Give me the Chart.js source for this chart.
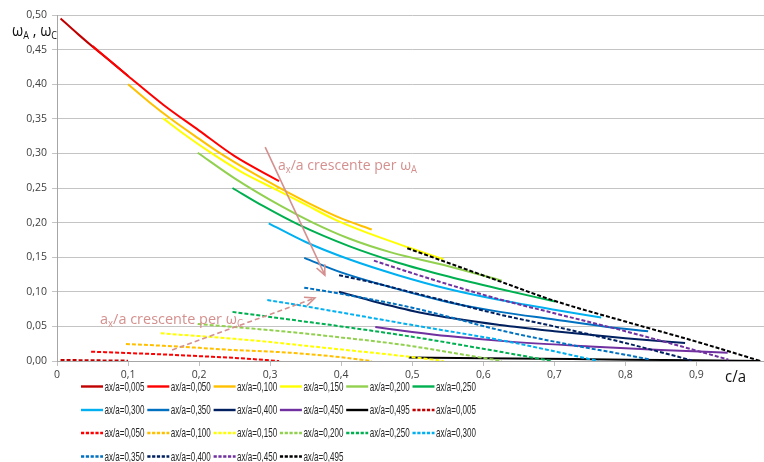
<!DOCTYPE html>
<html>
<head>
<meta charset="utf-8">
<script src="https://cdn.jsdelivr.net/npm/chart.js@4.4.1/dist/chart.umd.min.js"></script>
<style>
  html, body { margin: 0; padding: 0; background: #fff; overflow: hidden; width: 764px; height: 462px; }
  canvas { display: block; }
</style>
</head>
<body>
<canvas id="chart" width="772" height="462"></canvas>
<script>
// ax/a values shown in the legend (solid = omega_A, dashed = omega_C)
const axLabels = ['0,005', '0,050', '0,100', '0,150', '0,200', '0,250',
                  '0,300', '0,350', '0,400', '0,450', '0,495'];
const seriesColors = ['#C00000', '#FF0000', '#FFC000', '#FFFF00', '#92D050', '#00B050',
                      '#00B0F0', '#0070C0', '#002060', '#7030A0', '#000000'];

// tick labels
const yTickValues = [0, 0.05, 0.10, 0.15, 0.20, 0.25, 0.30, 0.35, 0.40, 0.45, 0.50];
const xTickValues = [0, 0.1, 0.2, 0.3, 0.4, 0.5, 0.6, 0.7, 0.8, 0.9];

// omega_A curves, points [c/a, omega]
const wA_0005 = [[0.005,0.495],[0.03,0.472],[0.055,0.450],[0.08,0.429],[0.1,0.412]];
const wA_0050 = [[0.05,0.455],[0.1,0.412],[0.15,0.370],[0.2,0.333],[0.25,0.296],[0.3125,0.260]];
const wA_0100 = [[0.1,0.400],[0.13,0.374],[0.16,0.350],[0.2,0.321],[0.23,0.300],[0.27,0.275],[0.31,0.252],[0.364,0.223],[0.4,0.206],[0.443,0.190]];
const wA_0150 = [[0.149,0.351],[0.18,0.327],[0.218,0.300],[0.26,0.273],[0.31,0.247],[0.35,0.226],[0.392,0.204],[0.44,0.184],[0.495,0.164],[0.544,0.147]];
const wA_0200 = [[0.198,0.301],[0.25,0.264],[0.317,0.223],[0.36,0.200],[0.411,0.177],[0.47,0.157],[0.551,0.137],[0.626,0.116]];
const wA_0250 = [[0.247,0.250],[0.29,0.224],[0.34,0.197],[0.411,0.166],[0.48,0.142],[0.551,0.122],[0.6235,0.104],[0.701,0.086]];
const wA_0300 = [[0.298,0.199],[0.35,0.172],[0.411,0.147],[0.48,0.124],[0.551,0.104],[0.6235,0.088],[0.7,0.074],[0.766,0.063]];
const wA_0350 = [[0.348,0.149],[0.4,0.128],[0.458,0.110],[0.551,0.085],[0.6235,0.071],[0.7,0.060],[0.77,0.050],[0.832,0.043]];
const wA_0400 = [[0.397,0.100],[0.45,0.085],[0.516,0.069],[0.6235,0.052],[0.7,0.043],[0.8,0.033],[0.884,0.026]];
const wA_0450 = [[0.448,0.049],[0.5,0.042],[0.55,0.036],[0.637,0.028],[0.75,0.021],[0.85,0.016],[0.944,0.012]];
const wA_0495 = [[0.495,0.005],[0.6,0.004],[0.75,0.0025],[0.9,0.001],[0.99,0.0]];

// omega_C curves, points [c/a, omega]
const wC_0005 = [[0.005,0.0015],[0.055,0.001],[0.1,0.0005]];
const wC_0050 = [[0.048,0.0135],[0.1,0.0115],[0.15,0.0095],[0.2,0.007],[0.25,0.0045],[0.3125,0.0]];
const wC_0100 = [[0.097,0.0246],[0.15,0.022],[0.2,0.019],[0.247,0.016],[0.327,0.012],[0.39,0.0065],[0.443,0.0]];
const wC_0150 = [[0.146,0.040],[0.2,0.036],[0.25,0.032],[0.294,0.028],[0.35,0.022],[0.42,0.0145],[0.48,0.008],[0.544,0.0]];
const wC_0200 = [[0.198,0.0535],[0.25,0.049],[0.327,0.042],[0.4,0.034],[0.483,0.024],[0.55,0.013],[0.626,0.0]];
const wC_0250 = [[0.247,0.071],[0.327,0.060],[0.4,0.050],[0.5,0.035],[0.6235,0.0134],[0.696,0.0]];
const wC_0300 = [[0.296,0.088],[0.327,0.083],[0.4,0.070],[0.5,0.052],[0.63,0.029],[0.7,0.014],[0.762,0.0]];
const wC_0350 = [[0.348,0.106],[0.4,0.097],[0.5,0.077],[0.63,0.043],[0.72,0.024],[0.8,0.009],[0.835,0.002]];
const wC_0400 = [[0.397,0.124],[0.45,0.112],[0.5,0.099],[0.55,0.086],[0.6235,0.067],[0.7,0.050],[0.8,0.026],[0.893,0.001]];
const wC_0450 = [[0.446,0.145],[0.5,0.127],[0.553,0.110],[0.6235,0.089],[0.7,0.069],[0.8,0.043],[0.9,0.015],[0.945,0.002]];
const wC_0495 = [[0.493,0.163],[0.55,0.142],[0.6235,0.115],[0.7,0.087],[0.8,0.057],[0.9,0.028],[0.99,0.0]];

const solidSeries  = [wA_0005, wA_0050, wA_0100, wA_0150, wA_0200, wA_0250, wA_0300, wA_0350, wA_0400, wA_0450, wA_0495];
const dashedSeries = [wC_0005, wC_0050, wC_0100, wC_0150, wC_0200, wC_0250, wC_0300, wC_0350, wC_0400, wC_0450, wC_0495];

const DASH = [4, 2];
const datasets = [];
function addSeries(points, i, dashed) {
  datasets.push({
    label: 'ax/a=' + axLabels[i],
    data: points.map(p => ({ x: p[0], y: p[1] })),
    borderColor: seriesColors[i],
    backgroundColor: seriesColors[i],
    borderWidth: 2,
    borderDash: dashed ? DASH : [],
    pointRadius: 0,
    fill: false,
    cubicInterpolationMode: 'monotone'
  });
}
solidSeries.forEach((s, i) => addSeries(s, i, false));
dashedSeries.forEach((s, i) => addSeries(s, i, true));
// later series are painted over earlier ones
datasets.forEach((d, i) => { d.order = datasets.length - i; });

const fmtY = v => v.toFixed(2).replace('.', ',');
const fmtX = v => (Math.abs(v - 1) < 1e-9 ? '' : (v === 0 ? '0' : (Math.round(v * 10) / 10).toString().replace('.', ',')));
const TEXT_FONT = '"Open Sans", "Liberation Sans", "DejaVu Sans", sans-serif';
const TICK_FONT = '"Open Sans", "Liberation Sans", sans-serif';
const PINK = '#D4908E';

// draws text pieces (with sub-scripts) squeezed to a given width
function drawRich(ctx, parts, x, y, width, color) {
  ctx.save();
  ctx.fillStyle = color;
  ctx.textBaseline = 'alphabetic';
  ctx.textAlign = 'left';
  let total = 0;
  parts.forEach(p => { ctx.font = p.size + 'px ' + TEXT_FONT; p.w = ctx.measureText(p.t).width; total += p.w; });
  const k = width / total;
  ctx.translate(x, y);
  ctx.scale(k, 1);
  let cx = 0;
  parts.forEach(p => {
    ctx.font = p.size + 'px ' + TEXT_FONT;
    ctx.fillText(p.t, cx, p.dy || 0);
    cx += p.w;
  });
  ctx.restore();
}

function drawArrow(ctx, x1, y1, x2, y2, dashed) {
  ctx.save();
  ctx.strokeStyle = PINK;
  ctx.lineWidth = 1.6;
  ctx.setLineDash(dashed ? [5, 3] : []);
  ctx.beginPath(); ctx.moveTo(x1, y1); ctx.lineTo(x2, y2); ctx.stroke();
  ctx.setLineDash([]);
  const a = Math.atan2(y2 - y1, x2 - x1), L = 11, s = 0.42;
  ctx.beginPath();
  ctx.moveTo(x2 - L * Math.cos(a - s), y2 - L * Math.sin(a - s));
  ctx.lineTo(x2, y2);
  ctx.lineTo(x2 - L * Math.cos(a + s), y2 - L * Math.sin(a + s));
  ctx.stroke();
  ctx.restore();
}

const extras = {
  id: 'extras',
  afterDraw(chart) {
    const ctx = chart.ctx, xs = chart.scales.x, ys = chart.scales.y;
    const px = v => xs.getPixelForValue(v), py = v => ys.getPixelForValue(v);

    // axis titles
    drawRich(ctx, [{ t: 'ω', size: 16 }, { t: 'A', size: 10, dy: 3 }, { t: ' , ω', size: 16 }, { t: 'C', size: 10, dy: 3 }],
             12, 36, 45, '#111');
    drawRich(ctx, [{ t: 'c/a', size: 16 }], 725, 382, 21, '#111');

    // trend arrows and notes
    drawArrow(ctx, px(0.293), py(0.309), px(0.377), py(0.124), false);
    drawArrow(ctx, px(0.162), py(0.016), px(0.363), py(0.091), true);
    drawRich(ctx, [{ t: 'a', size: 15 }, { t: 'x', size: 10, dy: 3 }, { t: '/a crescente per ω', size: 15 }, { t: 'A', size: 10, dy: 3 }],
             px(0.311), py(0.276), 139, PINK);
    drawRich(ctx, [{ t: 'a', size: 15 }, { t: 'x', size: 10, dy: 3 }, { t: '/a crescente per ω', size: 15 }, { t: 'C', size: 10, dy: 3 }],
             px(0.0605), py(0.0535), 143, PINK);

    // legend: 6 entries per row
    const rowY = [386.5, 410, 433, 456.5];
    chart.data.datasets.forEach((d, i) => {
      const col = i % 6, row = Math.floor(i / 6);
      const x = 81 + col * 66.3, y = rowY[row];
      ctx.save();
      ctx.strokeStyle = d.borderColor;
      ctx.lineWidth = 2.4;
      ctx.setLineDash(d.borderDash.length ? [3.2, 1.6] : []);
      ctx.beginPath(); ctx.moveTo(x, y); ctx.lineTo(x + 22, y); ctx.stroke();
      ctx.restore();
      ctx.save();
      ctx.font = '13px "Liberation Sans Narrow", "Liberation Sans", sans-serif';
      ctx.fillStyle = '#262626';
      ctx.textBaseline = 'middle';
      const w = ctx.measureText(d.label).width;
      ctx.translate(x + 23.5, y + 0.5);
      ctx.scale(40 / w, 1);
      ctx.fillText(d.label, 0, 0);
      ctx.restore();
    });
  }
};

new Chart(document.getElementById('chart'), {
  type: 'line',
  data: { datasets },
  plugins: [extras],
  options: {
    responsive: false,
    animation: false,
    events: [],
    layout: { padding: { left: 0, right: 4.5, top: 15, bottom: 71 } },
    plugins: { legend: { display: false }, tooltip: { enabled: false } },
    scales: {
      x: {
        type: 'linear', min: 0, max: 1,
        afterFit: s => { s.height = 30; },
        afterBuildTicks: s => { s.ticks = xTickValues.concat([1]).map(v => ({ value: v })); },
        ticks: {
          maxRotation: 0, autoSkip: false, padding: 3,
          color: '#404040', font: { family: TICK_FONT, size: 10.5 },
          callback: v => fmtX(v)
        },
        grid: { drawOnChartArea: false, drawTicks: true, tickLength: 5, color: '#BFBFBF' },
        border: { display: true, color: '#A6A6A6' }
      },
      y: {
        min: 0, max: 0.5,
        afterFit: s => { s.width = 57; },
        afterBuildTicks: s => { s.ticks = yTickValues.map(v => ({ value: v })); },
        ticks: {
          padding: 5, color: '#404040', font: { family: TICK_FONT, size: 10.5 },
          callback: v => fmtY(v)
        },
        grid: { color: '#C4C4C4', lineWidth: 1, tickLength: 5, drawTicks: true },
        border: { display: true, color: '#A6A6A6' }
      }
    }
  }
});
</script>
</body>
</html>
